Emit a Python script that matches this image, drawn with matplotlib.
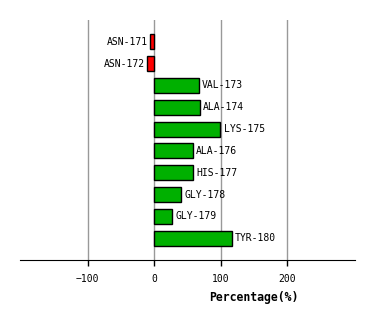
import matplotlib
matplotlib.use("Agg")
from matplotlib import pyplot as plt

# Data
residues = ["ASN-171", "ASN-172", "VAL-173", "ALA-174", "LYS-175",
            "ALA-176", "HIS-177", "GLY-178", "GLY-179", "TYR-180"]
percentages = [-6, -10.5, 66.7, 68, 99, 57.7, 57.7, 39.6, 26, 116]

plt.rcParams["font.family"] = ["DejaVu Sans Mono"]

fig = plt.figure(figsize=(3.74, 3.2), dpi=100)
ax = fig.add_axes([20 / 374, 60 / 320, 334.7 / 374, 240 / 320])

colors = ["#ff0000" if v < 0 else "#00b000" for v in percentages]
pos = list(range(len(residues)))
ax.barh(pos, percentages, height=0.68, color=colors, edgecolor="black", linewidth=1, zorder=3)

# labels next to bar ends
for y, v, name in zip(pos, percentages, residues):
    if v < 0:
        ax.text(v - 4, y, name, ha="right", va="center", fontsize=7)
    else:
        ax.text(v + 5, y, name, ha="left", va="center", fontsize=7)

ax.set_xlim(-202, 301)
ax.set_ylim(len(residues), -1)
ax.set_xticks([-100, 0, 100, 200])
ax.set_yticks([])
ax.grid(True, axis="x", color="#999999", linewidth=1, zorder=0)

for s in ["top", "left", "right"]:
    ax.spines[s].set_visible(False)
ax.spines["bottom"].set_color("black")
ax.tick_params(axis="x", length=4, width=1, labelsize=7, pad=6)

ax.set_xlabel("Percentage(%)", fontsize=8.3, fontweight="bold", labelpad=6)
ax.xaxis.set_label_coords(0.70, -0.13)

fig.savefig("out.png", dpi=100)
